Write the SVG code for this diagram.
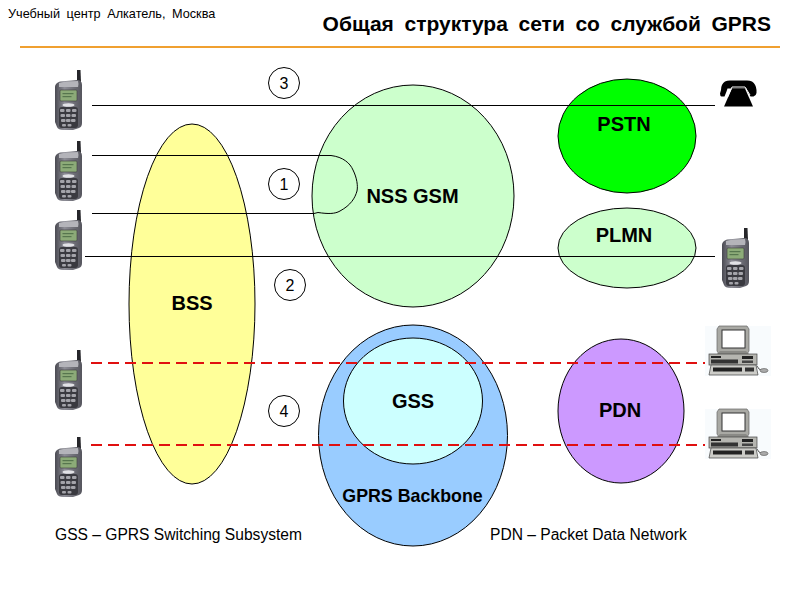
<svg xmlns="http://www.w3.org/2000/svg" xmlns:xlink="http://www.w3.org/1999/xlink" width="800" height="600" viewBox="0 0 800 600">
<style>
text{font-family:"Liberation Sans",Arial,sans-serif;fill:#000}
.zone{stroke:#000;stroke-width:1}
.big{font-size:20px;font-weight:bold;text-anchor:middle}
.num{font-size:16px;text-anchor:middle}
.note{font-size:15.6px}
.ln{fill:none;stroke:#000;stroke-width:1}
.dash{fill:none;stroke:#e01010;stroke-width:2;stroke-dasharray:11 6}
.badge{fill:#fff;stroke:#000;stroke-width:1}
</style>
<defs>
<linearGradient id="body" x1="0" x2="1" y1="0" y2="0"><stop offset="0" stop-color="#4a4a52"/><stop offset=".35" stop-color="#8d8d96"/><stop offset="1" stop-color="#55555d"/></linearGradient>
<g id="phone">
<path d="M24 0h3.500l.5 12h-4z" fill="#26262a"/>
<path d="M2 17q0-4 5-5.500l17-1.500q5 0 5 5v38q0 4-3 5l-6 2h-9q-6 0-7-3l-2-5z" fill="url(#body)"/>
<path d="M6 13q6-2 19-2 1 3 0 6H6z" fill="#b4b4ba"/>
<rect x="7" y="20" width="17" height="11" rx="1" fill="#8cab78" stroke="#3a3a3a" stroke-width=".6"/>
<rect x="9.500" y="23" width="11" height="1.200" fill="#56764e"/>
<rect x="9.500" y="26" width="9" height="1.200" fill="#56764e"/>
<ellipse cx="15.500" cy="35" rx="6" ry="1.800" fill="#e2e2e6"/>
<rect x="6" y="37" width="19" height="21" rx="3" fill="#3a3a40"/>
<g fill="#a4a4aa">
<rect x="7" y="39" width="4.500" height="3" rx="1"/><rect x="13" y="39" width="4.500" height="3" rx="1"/><rect x="19" y="39" width="4.500" height="3" rx="1"/>
<rect x="7.500" y="44" width="4.500" height="3" rx="1"/><rect x="13" y="44" width="4.500" height="3" rx="1"/><rect x="18.500" y="44" width="4.500" height="3" rx="1"/>
<rect x="8" y="49" width="4.500" height="3" rx="1"/><rect x="13" y="49" width="4.500" height="3" rx="1"/><rect x="18" y="49" width="4.500" height="3" rx="1"/>
<rect x="9" y="54" width="4" height="2.500" rx="1"/><rect x="14.500" y="54" width="4" height="2.500" rx="1"/>
</g>
</g>
<g id="pc">
<rect x="-2" y="0" width="66" height="50" fill="#f8fbfd"/>
<path d="M12 0h28l2 3v22l-2 3H12l-2-3V3z" fill="#a9a9a4" stroke="#666" stroke-width=".7"/>
<rect x="15" y="4" width="23" height="18" fill="#fff" stroke="#333"/>
<path d="M13 25h26l3 3H10z" fill="#8a8a86"/>
<rect x="2" y="28" width="48" height="11" fill="#b5b5b0" stroke="#444" stroke-width=".7"/>
<rect x="4" y="30" width="10" height="2" fill="#222"/>
<rect x="4" y="33.500" width="27" height="4" fill="#333"/>
<rect x="35" y="30" width="11" height="3" fill="#222"/>
<rect x="35" y="34.500" width="11" height="2.500" fill="#444"/>
<path d="M4 39h45l2 10H2z" fill="#ccccc8" stroke="#444" stroke-width=".7"/>
<rect x="6" y="41.500" width="29" height="4" fill="#222"/>
<rect x="38" y="41.500" width="9" height="4" fill="#333"/>
<path d="M50 40q2 4 4 4" fill="none" stroke="#555"/>
<ellipse cx="57" cy="44.500" rx="4" ry="2" fill="#aaa" stroke="#555" stroke-width=".6"/>
</g>
</defs>

<g id="header">
<text x="8" y="18" font-size="12.700" word-spacing="3">Учебный центр Алкатель, Москва</text>
<text x="771" y="31" font-size="21" font-weight="bold" text-anchor="end" word-spacing="4.800">Общая структура сети со службой GPRS</text>
<rect x="20" y="46" width="760" height="2" fill="#f0a030"/>
</g>

<g id="node-bss"><ellipse class="zone" cx="192" cy="304" rx="63" ry="180" fill="#ffff99"/><text class="big" x="192" y="310">BSS</text></g>
<g id="node-nss"><ellipse class="zone" cx="413" cy="196" rx="101" ry="111" fill="#ccffcc"/><text class="big" x="412.500" y="203">NSS GSM</text></g>
<g id="node-pstn"><ellipse class="zone" cx="627" cy="136" rx="69" ry="57" fill="#00ff00"/><text class="big" x="624" y="131">PSTN</text></g>
<g id="node-plmn"><ellipse class="zone" cx="627" cy="248" rx="69" ry="40" fill="#ccffcc"/><text class="big" x="624" y="242">PLMN</text></g>
<g id="node-backbone"><ellipse class="zone" cx="413" cy="435.500" rx="94.500" ry="110.500" fill="#99ccff"/><text x="412.500" y="502" font-size="17.800" font-weight="bold" text-anchor="middle">GPRS Backbone</text></g>
<g id="node-gss"><ellipse class="zone" cx="413" cy="401" rx="69.500" ry="63" fill="#ccffff"/><text class="big" x="413" y="408">GSS</text></g>
<g id="node-pdn"><ellipse class="zone" cx="621" cy="411" rx="63" ry="72" fill="#cc99ff"/><text class="big" x="620" y="417">PDN</text></g>

<g id="connectors">
<path class="ln" d="M92 105.500H715"/>
<path class="ln" d="M92 155.500H331C343 157 350 163 353 170C357 178 358 186 357 191C355 198 351 205 340 211C335 214 328 214 318 212.500L314 213.500H92"/>
<path class="ln" d="M85 256.500H715"/>
<path class="dash" d="M91 363H705"/>
<path class="dash" d="M91 445H705"/>
</g>

<g id="badge-3"><circle class="badge" cx="284" cy="83" r="15.500"/><text class="num" x="284" y="89">3</text></g>
<g id="badge-1"><circle class="badge" cx="284" cy="184" r="15.500"/><text class="num" x="284" y="190">1</text></g>
<g id="badge-2"><circle class="badge" cx="290" cy="285" r="15.500"/><text class="num" x="290" y="291">2</text></g>
<g id="badge-4"><circle class="badge" cx="284" cy="411" r="15.500"/><text class="num" x="284" y="417">4</text></g>

<g id="phone-1"><use xlink:href="#phone" href="#phone" x="53" y="70"/></g>
<g id="phone-2"><use xlink:href="#phone" href="#phone" x="53" y="141"/></g>
<g id="phone-3"><use xlink:href="#phone" href="#phone" x="53" y="210"/></g>
<g id="phone-4"><use xlink:href="#phone" href="#phone" x="720" y="228"/></g>
<g id="phone-5"><use xlink:href="#phone" href="#phone" x="53" y="350"/></g>
<g id="phone-6"><use xlink:href="#phone" href="#phone" x="53" y="437"/></g>

<g id="telephone">
<path d="M724 106.500l8-18h13l8 18z" fill="#000"/>
<path d="M721 90q0-6 4-8.500 2-1 5-1h17q3 0 5 1 4 2.500 4.500 8.500v3q-.5 3-3 3.500h-3l-3-5-1-3h-19l-1 3-2 5h-3q-1.500-.5-1.500-3z" fill="#000"/>
<path d="M727.500 97l4.500-10h13l5 8" fill="none" stroke="#fff" stroke-width="1"/>
</g>

<g id="pc-1"><use xlink:href="#pc" href="#pc" x="707" y="326"/></g>
<g id="pc-2"><use xlink:href="#pc" href="#pc" x="707" y="409"/></g>

<g id="notes">
<text class="note" x="55" y="540">GSS – GPRS Switching Subsystem</text>
<text class="note" x="490" y="540">PDN – Packet Data Network</text>
</g>
</svg>
